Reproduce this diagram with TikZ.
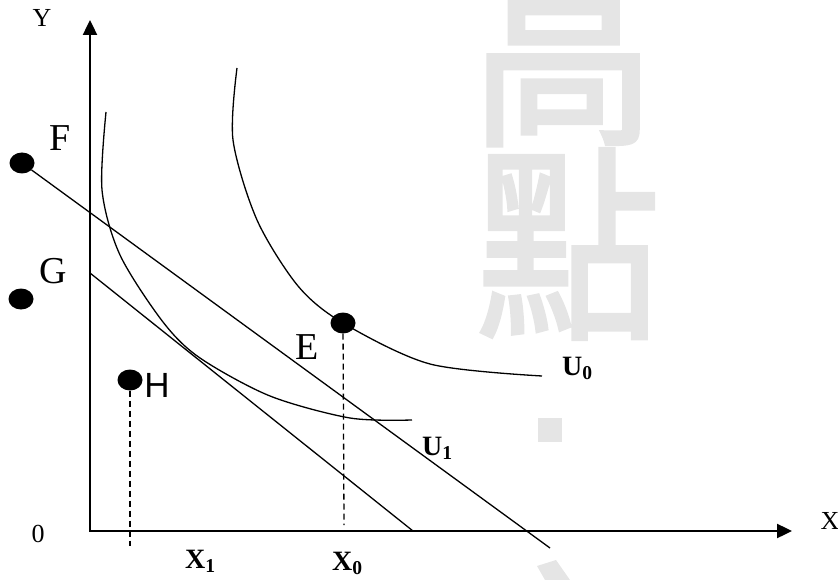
\documentclass[tikz,border=0pt]{standalone}
\usepackage{fontspec}
\setmainfont{Liberation Serif}
\newfontfamily\sansH{Liberation Sans}
\newfontfamily\cjkmark[FakeBold=2]{Noto Sans CJK TC}
\usepackage{tikz}
\usetikzlibrary{arrows.meta, positioning, shapes.geometric}

\begin{document}
\begin{tikzpicture}[x=1pt, y=-1pt,
    axisline/.style={line width=2.4pt, {Triangle[length=15pt, width=14pt]}-{Triangle[length=15pt, width=14pt]}},
    budgetline/.style={line width=1.3pt},
    icurve/.style={line width=1.3pt},
    dropline/.style={line width=1.3pt, dash pattern=on 6pt off 4pt},
    blackdot/.style={ellipse, fill=black, minimum width=25pt, minimum height=21pt, inner sep=0pt},
    ptlabel/.style={font=\fontsize{38}{40}\selectfont, inner sep=0pt},
    axislabel/.style={font=\fontsize{26}{28}\selectfont, inner sep=0pt},
    qlabel/.style={font=\fontsize{28}{30}\selectfont\bfseries, inner sep=0pt},
    wmark/.style={text=black!10, font=\fontsize{185}{185}\cjkmark, inner sep=0pt}
  ]
  \useasboundingbox (0,0) rectangle (838,580);
  \clip (0,0) rectangle (838,580);

  % watermark
  \node[wmark] (wm1) at (563,50) {\scalebox{1}[1.12]{高}};
  \node[wmark] (wm2) at (568,244) {\scalebox{1}[1.12]{點}};
  \fill[black!10] (538,418) rectangle (562,442);
  \fill[black!10] (537,566) -- (556,560) -- (570,580) -- (545,580) -- cycle;

  % axes
  \coordinate (O) at (90,531);
  \coordinate (ytip) at (90,20);
  \coordinate (xtip) at (792,531);
  \draw[axisline] (ytip) -- (O) -- (xtip);
  \node[axislabel] (ylab) at (42,18) {Y};
  \node[axislabel] (xlab) at (830,521) {X};
  \node[axislabel] (olab) at (38,534) {0};

  % indifference curves
  \draw[icurve] plot[smooth] coordinates {(106,112) (102,190) (120,255) (163,322)
      (200,358) (270,396) (350,418) (412,420)};
  \draw[icurve] plot[smooth] coordinates {(237,68) (233,140) (257,220) (298,286)
      (343,323) (430,364) (542,376)};

  % points
  \node[blackdot] (F) at (22,163) {};
  \node[blackdot] (G) at (21,299) {};
  \node[blackdot] (H) at (130,380) {};
  \node[blackdot] (E) at (343,323) {};

  % budget lines
  \coordinate (fEnd) at (550,548);
  \coordinate (gTop) at (90,273);
  \coordinate (gEnd) at (413,531);
  \draw[budgetline] (F) -- (fEnd);
  \draw[budgetline] (gTop) -- (gEnd);

  % drop lines
  \coordinate (x1foot) at (130,546);
  \coordinate (x0foot) at (344,525);
  \draw[dropline] (H) -- (x1foot);
  \draw[dropline] (E) -- (x0foot);

  \node[ptlabel] (Flab) at (60,138) {F};
  \node[ptlabel] (Glab) at (53,271) {G};
  \node[ptlabel] (Elab) at (307,347) {E};
  \node[ptlabel, font=\fontsize{35}{37}\sansH] (Hlab) at (157,385) {H};

  \node[qlabel, anchor=base west] (u0lab) at (562,375) {U\textsubscript{0}};
  \node[qlabel, anchor=base west] (u1lab) at (422,455) {U\textsubscript{1}};
  \node[qlabel, anchor=base west] (x1lab) at (185,568) {X\textsubscript{1}};
  \node[qlabel, anchor=base west] (x0lab) at (332,570) {X\textsubscript{0}};
\end{tikzpicture}
\end{document}
